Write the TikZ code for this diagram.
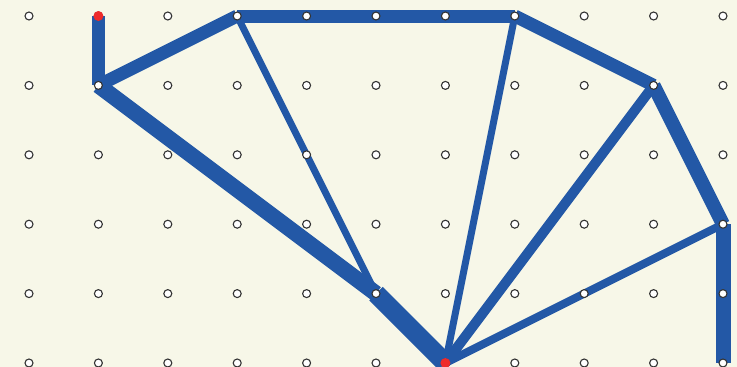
\documentclass[tikz,border=0pt]{standalone}
\definecolor{bg}{HTML}{F7F7E8}
\definecolor{bar}{HTML}{2358A6}
\definecolor{reddot}{HTML}{EE2B2B}
\definecolor{ring}{HTML}{333333}
\begin{document}
\begin{tikzpicture}[x=1pt,y=-1pt,
  member/.style={draw=bar,line cap=butt},
  gdot/.style={circle,fill=white,draw=ring,line width=1.1pt,inner sep=0pt,minimum size=8pt},
  rdot/.style={circle,fill=reddot,inner sep=0pt,minimum size=10pt}]
\fill[bg] (0,0) rectangle (737,367);
\useasboundingbox (0,0) rectangle (737,367);
\foreach \i in {0,...,10}{
  \foreach \j in {0,...,5}{
    \coordinate (c-\i-\j) at ({29+69.4*\i},{16+69.4*\j});
  }
}
% members
\draw[member,line width=13pt] (c-1-0) -- (c-1-1);
\draw[member,line width=13pt] (c-1-1) -- (c-3-0);
\draw[member,line width=13pt] (c-3-0) -- (c-7-0);
\draw[member,line width=13pt] (c-7-0) -- (c-9-1);
\draw[member,line width=14pt] (c-9-1) -- (c-10-3);
\draw[member,line width=15pt] (c-10-3) -- (c-10-5);
\draw[member,line width=16pt] (c-1-1) -- (c-5-4);
\draw[member,line width=19pt] (c-5-4) -- (c-6-5);
\draw[member,line width=7pt] (c-3-0) -- (c-5-4);
\draw[member,line width=7pt] (c-7-0) -- (c-6-5);
\draw[member,line width=10pt] (c-9-1) -- (c-6-5);
\draw[member,line width=8pt] (c-10-3) -- (c-6-5);
% grid dots
\foreach \i in {0,...,10}{
  \foreach \j in {0,...,5}{
    \node[gdot] (d-\i-\j) at (c-\i-\j) {};
  }
}
\node[rdot] (r1) at (c-1-0) {};
\node[rdot] (r2) at (c-6-5) {};
\end{tikzpicture}
\end{document}
